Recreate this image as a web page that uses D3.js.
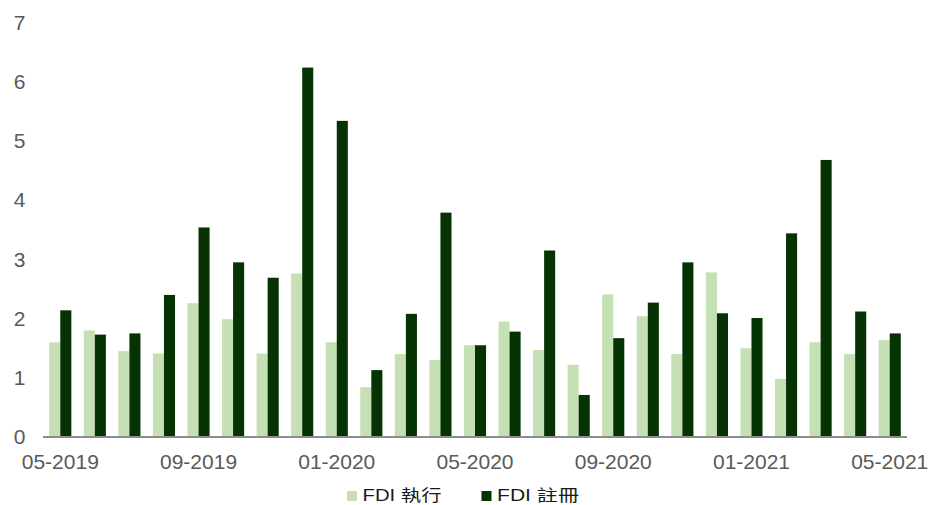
<!DOCTYPE html>
<html>
<head>
<meta charset="utf-8">
<script src="https://cdn.jsdelivr.net/npm/d3@7"></script>
<style>
  html, body { margin: 0; padding: 0; background: #fff; }
  svg { display: block; font-family: "Liberation Sans", Arial, sans-serif; }
</style>
</head>
<body>
<svg id="chart" width="930" height="505"></svg>
<script>
// Monthly FDI, 05-2019 to 05-2021
const months = [
  "05-2019","06-2019","07-2019","08-2019","09-2019","10-2019","11-2019","12-2019",
  "01-2020","02-2020","03-2020","04-2020","05-2020","06-2020","07-2020","08-2020",
  "09-2020","10-2020","11-2020","12-2020","01-2021","02-2021","03-2021","04-2021","05-2021"
];
const disbursed = [1.60,1.80,1.45,1.41,2.26,1.99,1.41,2.76,1.60,0.84,1.40,1.30,1.55,1.95,1.47,1.22,2.41,2.04,1.40,2.78,1.50,0.98,1.60,1.40,1.64];
const registered = [2.14,1.73,1.75,2.40,3.54,2.95,2.69,6.24,5.34,1.13,2.08,3.79,1.55,1.78,3.15,0.71,1.67,2.27,2.95,2.09,2.01,3.44,4.68,2.12,1.75];
const seriesNames = ["FDI 執行", "FDI 註冊"];
const seriesColors = ["#c5e0b4", "#063303"];
const yTicks = [0,1,2,3,4,5,6,7];
const xTickLabels = ["05-2019","09-2019","01-2020","05-2020","09-2020","01-2021","05-2021"];

const svg = d3.select("#chart");
const plotLeft = 43, plotRight = 907, plotTop = 22.6, plotBottom = 437;
const labelFont = "'Liberation Sans', Arial, sans-serif";

const x = d3.scaleBand().domain(months).range([plotLeft, plotRight]).paddingInner(0.36).paddingOuter(0.18);
const sub = d3.scaleBand().domain([0, 1]).range([0, x.bandwidth()]);
const y = d3.scaleLinear().domain([0, 7]).range([plotBottom, plotTop]);

const series = [disbursed, registered];
series.forEach((vals, si) => {
  svg.append("g").selectAll("rect").data(vals).join("rect")
    .attr("x", (d, i) => x(months[i]) + sub(si))
    .attr("y", d => y(d))
    .attr("width", sub.bandwidth())
    .attr("height", d => y(0) - y(d))
    .attr("fill", seriesColors[si]);
});

// Y axis labels
const yAxis = d3.axisLeft(y).tickValues(yTicks).tickSize(0).tickPadding(0).tickFormat(d3.format("d"));
const yg = svg.append("g").attr("transform", "translate(25.5,0)").call(yAxis);
yg.select(".domain").remove();
yg.selectAll("text").attr("fill", "#595959").style("font-size", "21px").style("font-family", labelFont);

// X axis line and labels
const xAxis = d3.axisBottom(x).tickValues(xTickLabels).tickSize(0).tickPadding(17);
const xg = svg.append("g").attr("transform", `translate(0,${plotBottom})`).call(xAxis);
xg.select(".domain").attr("stroke", "#8c8c8c").attr("stroke-width", 2)
  .attr("d", `M${plotLeft},0H${plotRight}`);
xg.selectAll("text").attr("fill", "#595959").style("font-size", "21px").style("font-family", labelFont);

// Legend
const legend = svg.append("g").attr("transform", "translate(347,495)");
const legendX = [0, 134.5];
const legendTextWidth = [79, 82];
seriesNames.forEach((name, i) => {
  const g = legend.append("g").attr("transform", `translate(${legendX[i]},0)`);
  g.append("rect").attr("x", 0).attr("y", -4).attr("width", 10).attr("height", 10).attr("fill", seriesColors[i]);
  g.append("text").attr("x", 15.5).attr("y", 0).attr("dy", "0.36em")
    .attr("fill", "#1a1a1a").style("font-size", "16px")
    .style("font-family", "'Liberation Sans', 'Noto Sans CJK TC', sans-serif")
    .attr("textLength", legendTextWidth[i]).attr("lengthAdjust", "spacingAndGlyphs")
    .text(name);
});
</script>
</body>
</html>
